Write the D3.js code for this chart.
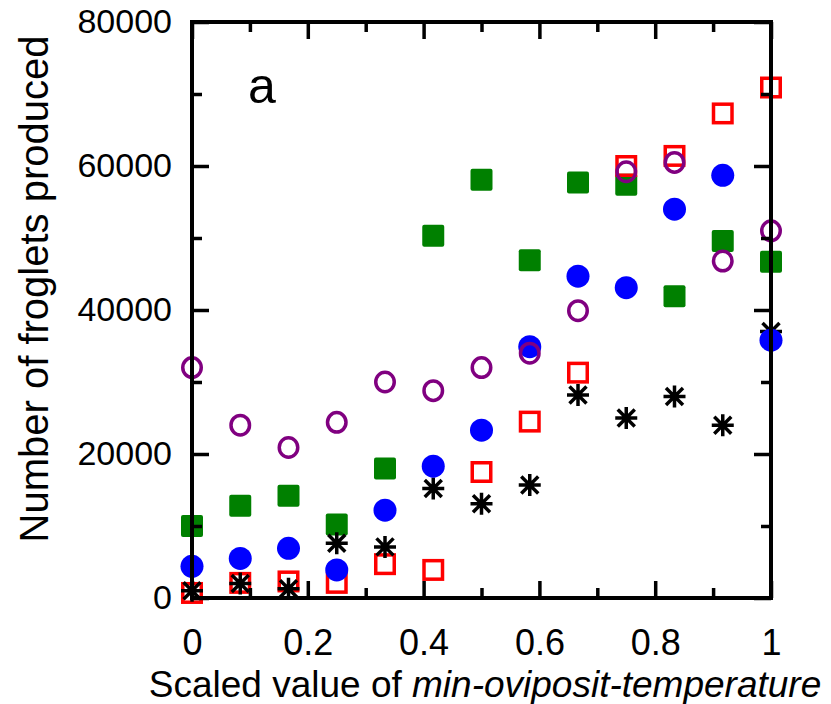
<!DOCTYPE html>
<html>
<head>
<meta charset="utf-8">
<script src="https://cdn.jsdelivr.net/npm/d3@7"></script>
<style>
  html, body { margin: 0; padding: 0; background: #fff; }
  svg { display: block; }
  text { font-family: "Liberation Sans", Arial, Helvetica, sans-serif; fill: #000; }
</style>
</head>
<body>
<svg id="chart" width="831" height="704"></svg>
<script>
// ---- data ----
const xValues = [0, 1/12, 2/12, 3/12, 4/12, 5/12, 6/12, 7/12, 8/12, 9/12, 10/12, 11/12, 1];
const greenSquares = [10000, 12800, 14200, 10200, 18000, 50300, 58100, 46900, 57700, 57400, 41900, 49600, 46700];
const redSquares   = [700, 2100, 2300, 2100, 4700, 3900, 17500, 24500, 31300, 60000, 61400, 67300, 70900];
const blackStars   = [1000, 2000, 1300, 7600, 7100, 15200, 13100, 15700, 28200, 25000, 28000, 24000, 37000];
const blueCircles  = [4400, 5500, 6900, 3900, 12200, 18300, 23300, 34900, 44700, 43100, 54000, 58700, 35800];
const purpleCircles= [32000, 24000, 20900, 24400, 30000, 28800, 32000, 34000, 39900, 59200, 60500, 46800, 51000];
const xTicks = [0, 0.2, 0.4, 0.6, 0.8, 1];
const xMinorTicks = [0.1, 0.3, 0.5, 0.7, 0.9];
const yTicks = [0, 20000, 40000, 60000, 80000];
const yMinorTicks = [10000, 30000, 50000, 70000];
const xTitlePlain = "Scaled value of ";
const xTitleItalic = "min-oviposit-temperature";
const yTitle = "Number of froglets produced";
const panelLabel = "a";

// ---- layout ----
const pL = 192, pR = 771, pT = 22, pB = 598;
const svg = d3.select("#chart");
const x = d3.scaleLinear().domain([0, 1]).range([pL, pR]);
const y = d3.scaleLinear().domain([0, 80000]).range([pB, pT]);

const marks = svg.append("g");

function pts(vals) { return vals.map((v, i) => ({ x: xValues[i], y: v })); }

// green filled squares
marks.append("g").selectAll("rect").data(pts(greenSquares)).join("rect")
  .attr("x", d => x(d.x) - 11).attr("y", d => y(d.y) - 11)
  .attr("width", 22).attr("height", 22).attr("rx", 2)
  .attr("fill", "#008000");

// red open squares
marks.append("g").selectAll("rect").data(pts(redSquares)).join("rect")
  .attr("x", d => x(d.x) - 9.25).attr("y", d => y(d.y) - 9.25)
  .attr("width", 18.5).attr("height", 18.5)
  .attr("fill", "none").attr("stroke", "#ff0000").attr("stroke-width", 3.5);

// black asterisks
const starPath = (() => {
  const r = 11, rd = 8.5;
  let p = "";
  p += `M0,${-r}L0,${r}`;
  p += `M${-r},0L${r},0`;
  p += `M${-rd},${-rd}L${rd},${rd}`;
  p += `M${-rd},${rd}L${rd},${-rd}`;
  return p;
})();
marks.append("g").selectAll("path").data(pts(blackStars)).join("path")
  .attr("transform", d => `translate(${x(d.x)},${y(d.y)})`)
  .attr("d", starPath)
  .attr("fill", "none").attr("stroke", "#000").attr("stroke-width", 3.5);

// blue filled circles
marks.append("g").selectAll("circle").data(pts(blueCircles)).join("circle")
  .attr("cx", d => x(d.x)).attr("cy", d => y(d.y)).attr("r", 11.5)
  .attr("fill", "#0000ff");

// purple open circles
marks.append("g").selectAll("ellipse").data(pts(purpleCircles)).join("ellipse")
  .attr("cx", d => x(d.x)).attr("cy", d => y(d.y)).attr("rx", 9.25).attr("ry", 9.75)
  .attr("fill", "none").attr("stroke", "#800080").attr("stroke-width", 3.5);

// ---- axes (drawn on top, ticks inward on all sides) ----
const ax = svg.append("g");
function tickGroup(axis, transform, width) {
  const g = ax.append("g").attr("transform", transform).call(axis);
  g.select(".domain").remove();
  g.selectAll(".tick line").attr("stroke", "#000").attr("stroke-width", width);
  return g;
}
const majorLen = 17, minorLen = 10;
// bottom
const gxb = tickGroup(d3.axisBottom(x).tickValues(xTicks).tickSize(-majorLen).tickPadding(31).tickFormat(d3.format("~g")),
  `translate(0,${pB})`, 3.5);
gxb.selectAll("text").attr("font-size", 36).attr("dy", "0.71em")
  .style("font-family", '"Liberation Sans", Arial, sans-serif');
tickGroup(d3.axisBottom(x).tickValues(xMinorTicks).tickSize(-minorLen).tickFormat(""), `translate(0,${pB})`, 3.5);
// top
tickGroup(d3.axisTop(x).tickValues(xTicks).tickSize(-majorLen).tickFormat(""), `translate(0,${pT})`, 3.5);
tickGroup(d3.axisTop(x).tickValues(xMinorTicks).tickSize(-minorLen).tickFormat(""), `translate(0,${pT})`, 3.5);
// left
const gyl = tickGroup(d3.axisLeft(y).tickValues(yTicks).tickSize(-majorLen).tickPadding(20).tickFormat(d3.format("d")),
  `translate(${pL},0)`, 3.5);
gyl.selectAll("text").attr("font-size", 34)
  .style("font-family", '"Liberation Sans", Arial, sans-serif');
tickGroup(d3.axisLeft(y).tickValues(yMinorTicks).tickSize(-minorLen).tickFormat(""), `translate(${pL},0)`, 3.5);
// right
tickGroup(d3.axisRight(y).tickValues(yTicks).tickSize(-majorLen).tickFormat(""), `translate(${pR},0)`, 3.5);
tickGroup(d3.axisRight(y).tickValues(yMinorTicks).tickSize(-minorLen).tickFormat(""), `translate(${pR},0)`, 3.5);

// frame
ax.append("rect").attr("x", pL).attr("y", pT)
  .attr("width", pR - pL).attr("height", pB - pT)
  .attr("fill", "none").attr("stroke", "#000").attr("stroke-width", 4);

// ---- titles ----
const xt = svg.append("text").attr("x", 485).attr("y", 697)
  .attr("text-anchor", "middle").attr("font-size", 37);
xt.append("tspan").text(xTitlePlain);
xt.append("tspan").attr("font-style", "italic").text(xTitleItalic);

svg.append("text")
  .attr("transform", `translate(48,289) rotate(-90)`)
  .attr("text-anchor", "middle").attr("font-size", 40)
  .text(yTitle);

svg.append("text").attr("x", 262).attr("y", 103).attr("text-anchor", "middle")
  .attr("font-size", 50).text(panelLabel);
</script>
</body>
</html>
